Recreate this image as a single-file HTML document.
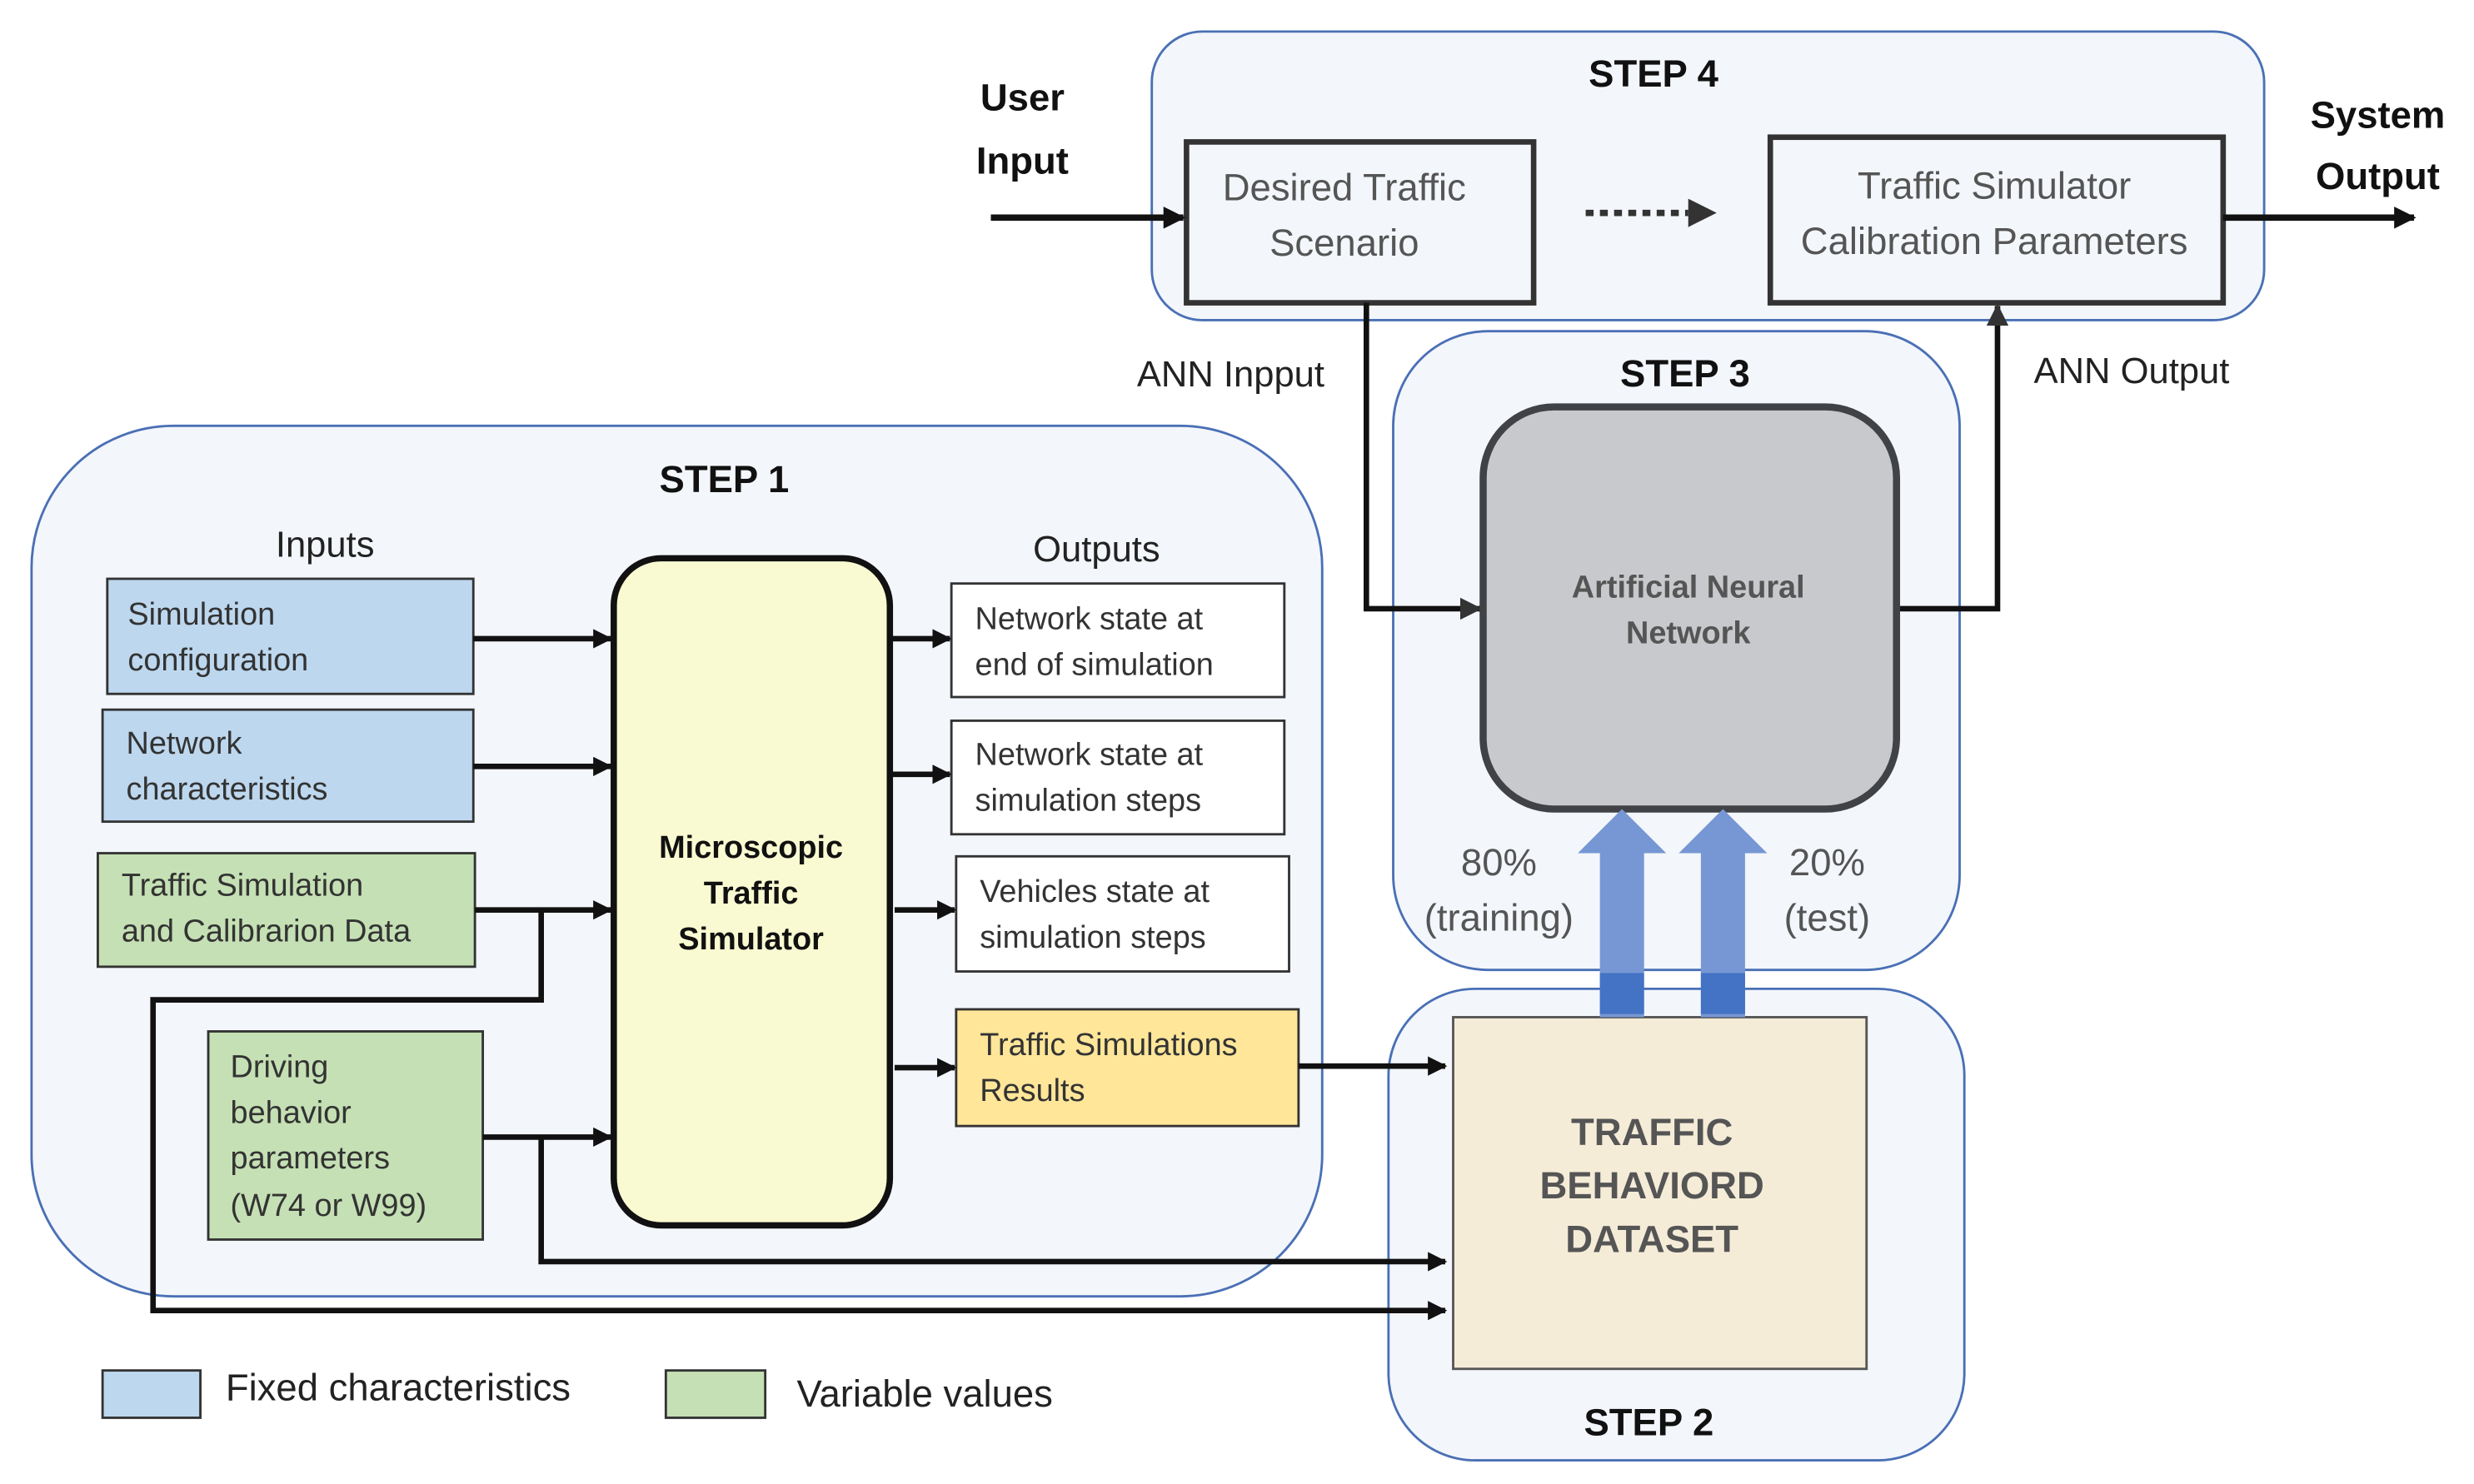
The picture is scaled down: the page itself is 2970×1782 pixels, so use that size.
<!DOCTYPE html>
<html><head><meta charset="utf-8"><style>
html,body{margin:0;padding:0;background:#fff;}
svg{display:block;}
text{font-family:"Liberation Sans",sans-serif;}
.t{font-size:20px;fill:#333;}
.g{font-size:24px;fill:#555;text-anchor:middle;}
.b{font-weight:bold;fill:#111;text-anchor:middle;font-size:24px;}
</style></head><body>
<svg width="2970" height="1782" viewBox="0 0 1568 941" preserveAspectRatio="none" xmlns="http://www.w3.org/2000/svg">
<defs>
<marker id="a" viewBox="0 0 10 10" refX="9" refY="5" markerWidth="4" markerHeight="4" orient="auto"><path d="M0,0L10,5L0,10z" fill="#333"/></marker>
<marker id="k" viewBox="0 0 10 10" refX="9" refY="5" markerWidth="3.5" markerHeight="3.5" orient="auto"><path d="M0,0L10,5L0,10z" fill="#111"/></marker>
</defs>
<!-- group boxes -->
<rect x="730" y="20" width="705" height="183" rx="32" fill="#f3f6fb" stroke="#4a70b5" stroke-width="1.5"/>
<rect x="883" y="210" width="359" height="405" rx="60" fill="#f3f6fb" stroke="#4a70b5" stroke-width="1.5"/>
<rect x="880" y="627" width="365" height="299" rx="55" fill="#f3f6fb" stroke="#4a70b5" stroke-width="1.5"/>
<rect x="20" y="270" width="818" height="552" rx="90" fill="#f3f6fb" stroke="#4a70b5" stroke-width="1.5"/>

<text x="1048" y="55" class="b">STEP 4</text>
<text x="1068" y="245" class="b">STEP 3</text>
<text x="1045" y="910" class="b">STEP 2</text>
<text x="459" y="312" class="b">STEP 1</text>

<text x="648" y="70" class="b" font-size="25">User</text>
<text x="648" y="110" class="b" font-size="25">Input</text>
<text x="1507" y="81" class="b" font-size="25">System</text>
<text x="1507" y="120" class="b" font-size="25">Output</text>

<!-- step 4 boxes -->
<rect x="752" y="90" width="220" height="102" fill="#f3f6fb" stroke="#333" stroke-width="3.5"/>
<text x="852" y="127" class="g">Desired Traffic</text>
<text x="852" y="162" class="g">Scenario</text>
<rect x="1122" y="87" width="287" height="105" fill="#f3f6fb" stroke="#333" stroke-width="3.5"/>
<text x="1264" y="126" class="g">Traffic Simulator</text>
<text x="1264" y="161" class="g">Calibration Parameters</text>
<line x1="1005" y1="135" x2="1070" y2="135" stroke="#333" stroke-width="4" stroke-dasharray="5,4"/>
<path d="M1070,126L1088,135L1070,144z" fill="#333"/>
<line x1="628" y1="138" x2="750" y2="138" stroke="#111" stroke-width="4" marker-end="url(#k)"/>
<line x1="1409" y1="138" x2="1530" y2="138" stroke="#111" stroke-width="4" marker-end="url(#k)"/>

<text x="780" y="245" font-size="23" fill="#222" text-anchor="middle">ANN Inpput</text>
<text x="1351" y="243" font-size="23" fill="#222" text-anchor="middle">ANN Output</text>
<polyline points="866,192 866,386 938,386" fill="none" stroke="#111" stroke-width="3.5" marker-end="url(#a)"/>
<polyline points="1202,386 1266,386 1266,194" fill="none" stroke="#111" stroke-width="3.5" marker-end="url(#a)"/>

<!-- ANN -->
<rect x="940" y="258" width="262" height="255" rx="45" fill="#c8c9cc" stroke="#404246" stroke-width="4.5"/>
<text x="1070" y="379" font-size="20" font-weight="bold" fill="#555" text-anchor="middle">Artificial Neural</text>
<text x="1070" y="408" font-size="20" font-weight="bold" fill="#555" text-anchor="middle">Network</text>

<!-- dataset -->
<rect x="921" y="645" width="262" height="223" fill="#f5ecd8" stroke="#555" stroke-width="1.5"/>
<text x="1047" y="726" class="g" font-weight="bold" font-size="25">TRAFFIC</text>
<text x="1047" y="760" class="g" font-weight="bold" font-size="25">BEHAVIORD</text>
<text x="1047" y="794" class="g" font-weight="bold" font-size="25">DATASET</text>

<!-- blue arrows -->
<path d="M1014,645V541H1000L1028,513L1056,541H1042V645z" fill="#7697d4"/>
<path d="M1078,645V541H1064L1092,513L1120,541H1106V645z" fill="#7697d4"/>
<rect x="1014" y="617" width="28" height="26" fill="#4472c4"/>
<rect x="1078" y="617" width="28" height="26" fill="#4472c4"/>
<text x="950" y="555" class="g">80%</text>
<text x="950" y="590" class="g">(training)</text>
<text x="1158" y="555" class="g">20%</text>
<text x="1158" y="590" class="g">(test)</text>

<!-- step 1 -->
<text x="206" y="353" font-size="23" fill="#222" text-anchor="middle">Inputs</text>
<text x="695" y="356" font-size="23" fill="#222" text-anchor="middle">Outputs</text>
<rect x="68" y="367" width="232" height="73" fill="#bdd7ee" stroke="#333" stroke-width="1.5"/>
<text x="81" y="396" class="t">Simulation</text><text x="81" y="425" class="t">configuration</text>
<rect x="65" y="450" width="235" height="71" fill="#bdd7ee" stroke="#333" stroke-width="1.5"/>
<text x="80" y="478" class="t">Network</text><text x="80" y="507" class="t">characteristics</text>
<rect x="62" y="541" width="239" height="72" fill="#c5e0b4" stroke="#333" stroke-width="1.5"/>
<text x="77" y="568" class="t">Traffic Simulation</text><text x="77" y="597" class="t">and Calibrarion Data</text>
<rect x="132" y="654" width="174" height="132" fill="#c5e0b4" stroke="#333" stroke-width="1.5"/>
<text x="146" y="683" class="t">Driving</text><text x="146" y="712" class="t">behavior</text>
<text x="146" y="741" class="t">parameters</text><text x="146" y="771" class="t">(W74 or W99)</text>

<rect x="389" y="354" width="175" height="423" rx="30" fill="#fafad2" stroke="#111" stroke-width="4"/>
<text x="476" y="544" font-size="20" font-weight="bold" fill="#111" text-anchor="middle">Microscopic</text>
<text x="476" y="573" font-size="20" font-weight="bold" fill="#111" text-anchor="middle">Traffic</text>
<text x="476" y="602" font-size="20" font-weight="bold" fill="#111" text-anchor="middle">Simulator</text>

<rect x="603" y="370" width="211" height="72" fill="#fff" stroke="#333" stroke-width="1.5"/>
<text x="618" y="399" class="t">Network state at</text><text x="618" y="428" class="t">end of simulation</text>
<rect x="603" y="457" width="211" height="72" fill="#fff" stroke="#333" stroke-width="1.5"/>
<text x="618" y="485" class="t">Network state at</text><text x="618" y="514" class="t">simulation steps</text>
<rect x="606" y="543" width="211" height="73" fill="#fff" stroke="#333" stroke-width="1.5"/>
<text x="621" y="572" class="t">Vehicles state at</text><text x="621" y="601" class="t">simulation steps</text>
<rect x="606" y="640" width="217" height="74" fill="#ffe699" stroke="#333" stroke-width="1.5"/>
<text x="621" y="669" class="t">Traffic Simulations</text><text x="621" y="698" class="t">Results</text>

<g stroke="#111" stroke-width="3.5" fill="none" marker-end="url(#k)">
<line x1="300" y1="405" x2="387" y2="405"/>
<line x1="300" y1="486" x2="387" y2="486"/>
<line x1="301" y1="577" x2="387" y2="577"/>
<line x1="306" y1="721" x2="387" y2="721"/>
<line x1="564" y1="405" x2="602" y2="405"/>
<line x1="564" y1="491" x2="602" y2="491"/>
<line x1="567" y1="577" x2="605" y2="577"/>
<line x1="567" y1="677" x2="605" y2="677"/>
<line x1="823" y1="676" x2="916" y2="676"/>
<polyline points="343,577 343,634 97,634 97,831 916,831"/>
<polyline points="343,721 343,800 916,800"/>
</g>

<!-- legend -->
<rect x="65" y="869" width="62" height="30" fill="#bdd7ee" stroke="#333" stroke-width="1.5"/>
<text x="143" y="888" font-size="24" fill="#222">Fixed characteristics</text>
<rect x="422" y="869" width="63" height="30" fill="#c5e0b4" stroke="#333" stroke-width="1.5"/>
<text x="505" y="892" font-size="24" fill="#222">Variable values</text>
</svg>
</body></html>
